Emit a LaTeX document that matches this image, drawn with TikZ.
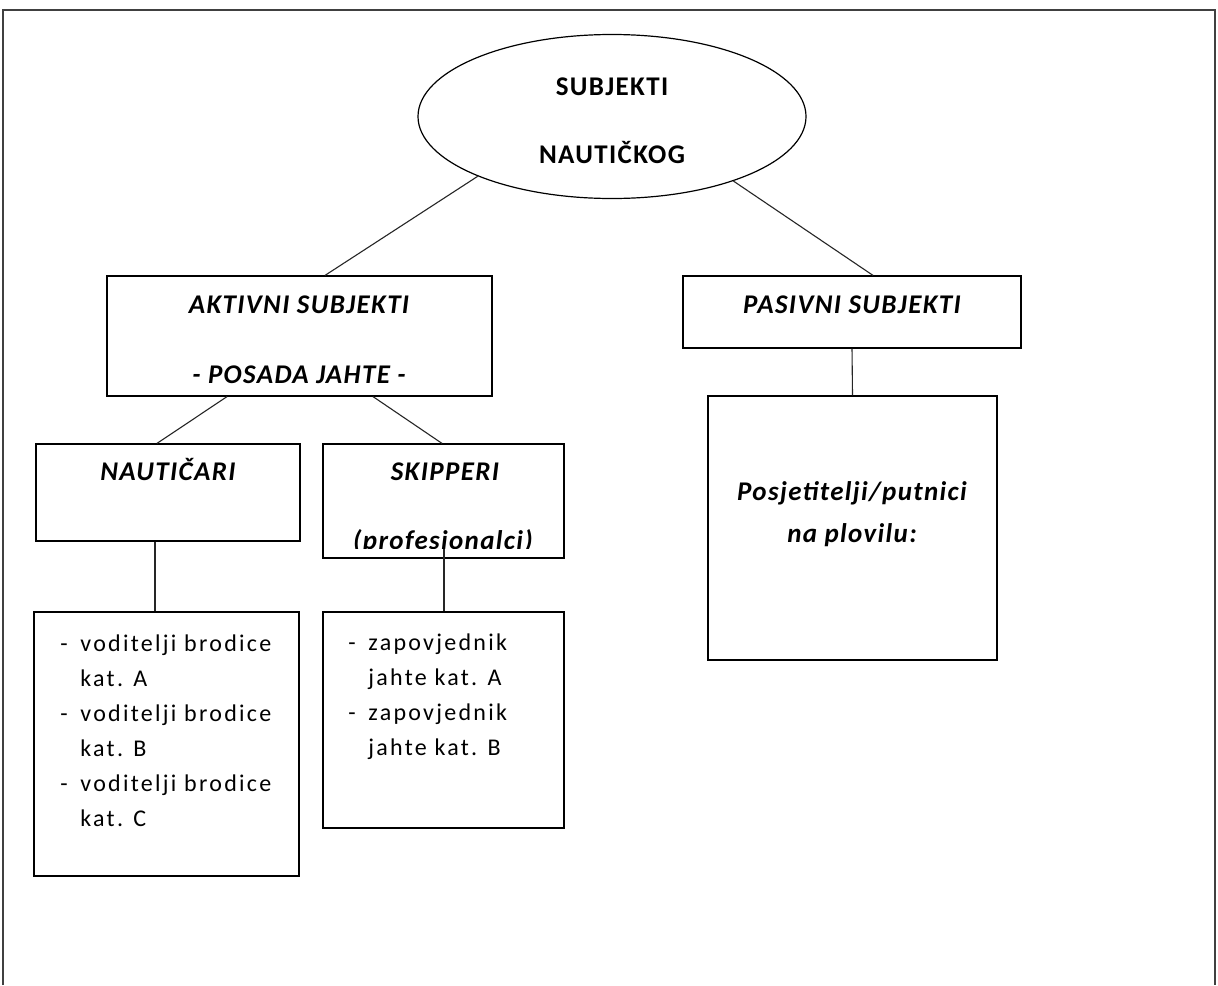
\documentclass[tikz,border=0pt]{standalone}
\usepackage{fontspec}
\setmainfont{Carlito}
\newfontfamily\hfont[LetterSpace=5]{Carlito}
\newfontfamily\lfont[LetterSpace=9.5]{Carlito}
\usetikzlibrary{shapes.geometric,calc}
\tikzset{
  box/.style={draw=black, line width=0.6pt, rectangle, inner sep=0pt},
  conn/.style={draw=black!85, line width=0.55pt},
  head/.style={inner sep=0pt, anchor=base, font=\hfont\fontsize{13.5}{21}\selectfont\bfseries\itshape},
  ehead/.style={inner sep=0pt, anchor=base, font=\hfont\fontsize{13.5}{21}\selectfont\bfseries},
  list/.style={inner sep=0pt, anchor=base west, font=\lfont\fontsize{12}{17.5}\selectfont},
}
\newcommand{\itm}{\makebox[10pt][l]{-}}
\newcommand{\ind}{\hspace*{10pt}}
\begin{document}
\begin{tikzpicture}[x=0.5pt,y=-0.5pt]
\useasboundingbox (0,0) rectangle (1218,985);
\fill[white] (0,0) rectangle (1218,985);
\draw[draw=black!75, line width=1pt] (3,985) -- (3,10) -- (1215,10) -- (1215,985);

% ellipse
\node[ellipse, draw=black, line width=0.6pt, minimum width=194pt, minimum height=82pt, inner sep=0pt] (ell) at (612,116.5) {};
\node[ehead] (t1) at (612,95) {SUBJEKTI};
\node[ehead] (t2) at (612,163) {NAUTIČKOG};

% boxes
\node[box, minimum width=192.5pt, minimum height=60pt] (akt) at (299.5,336) {};
\node[box, minimum width=169pt, minimum height=36pt] (pas) at (852,312) {};
\node[box, minimum width=144.5pt, minimum height=132pt] (pos) at (852.5,528) {};
\node[box, minimum width=132pt, minimum height=48.5pt] (nau) at (168,492.5) {};
\node[box, minimum width=120.5pt, minimum height=57pt] (ski) at (443.5,501) {};
\node[box, minimum width=132.5pt, minimum height=132pt] (vod) at (166.5,744) {};
\node[box, minimum width=120.5pt, minimum height=108pt] (zap) at (443.5,720) {};

% texts
\node[head] (ta1) at (299,313) {AKTIVNI SUBJEKTI};
\node[head] (ta2) at (299,383) {- POSADA JAHTE -};
\node[head] (tp) at (852,313) {PASIVNI SUBJEKTI};
\node[head] (tq1) at (852,500) {Posjetitelji/putnici};
\node[head] (tq2) at (852,542) {na plovilu:};
\node[head] (tn) at (168,480) {NAUTIČARI};
\node[head] (ts1) at (445,480) {SKIPPERI};
\begin{scope}
  \clip (323,444) rectangle (564,548);
  \node[head] (ts2) at (443,549) {(profesionalci)};
\end{scope}

\node[list] (lv) at (60,651) {\begin{tabular}[t]{@{}l@{}}
\itm voditelji brodice\\ \ind kat. A\\
\itm voditelji brodice\\ \ind kat. B\\
\itm voditelji brodice\\ \ind kat. C
\end{tabular}};
\node[list] (lz) at (348,650) {\begin{tabular}[t]{@{}l@{}}
\itm zapovjednik\\ \ind jahte kat. A\\
\itm zapovjednik\\ \ind jahte kat. B
\end{tabular}};

% connectors
\draw[conn] (ell.204) -- ($(akt.north)+(25.5,0)$);
\draw[conn] (ell.332) -- ($(pas.north)+(21,0)$);
\draw[conn] ($(akt.south)+(-72.5,0)$) -- ($(nau.north)+(-11,0)$);
\draw[conn] ($(akt.south)+(73.5,0)$) -- ($(ski.north)+(-1.5,0)$);
\draw[conn] ($(nau.south)+(-13,0)$) -- ($(vod.north)+(-11.5,0)$);
\draw[conn] ($(ski.south)+(0.5,-10)$) -- ($(zap.north)+(0.5,0)$);
\draw[conn] (pas.south) -- (pos.north);
\end{tikzpicture}
\end{document}
